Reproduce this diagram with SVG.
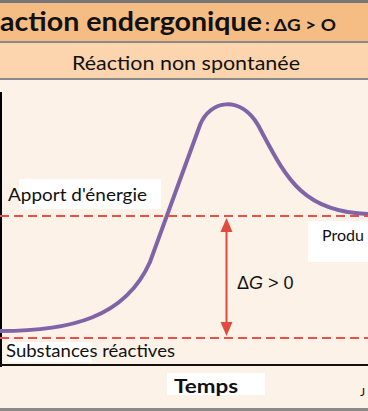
<svg xmlns="http://www.w3.org/2000/svg" width="368" height="411" viewBox="0 0 368 411">
<defs>
<style>
.t{font-family:Lato,"Open Sans","Liberation Sans",sans-serif;fill:#111}
.dash{stroke:#e8514a;stroke-width:2;stroke-dasharray:9 5;fill:none}
.box{fill:#fff}
</style>
</defs>
<rect x="0" y="0" width="368" height="411" fill="#fdf2e7"/>
<g id="title">
<rect x="0" y="0" width="368" height="42" fill="#f5bc84"/>
<rect x="0" y="0" width="368" height="3" fill="#767676"/>
<rect x="0" y="41" width="368" height="2" fill="#8a8a8a"/>
<text class="t" x="0" y="31" font-size="26" font-weight="bold" textLength="262" lengthAdjust="spacingAndGlyphs">action endergonique</text>
<text class="t" x="265" y="31" font-size="17" font-weight="bold" textLength="71" lengthAdjust="spacingAndGlyphs">: ΔG &gt; O</text>
</g>
<g id="subtitle">
<rect x="0" y="43" width="368" height="36" fill="#fcd5ae"/>
<rect x="0" y="78" width="368" height="2" fill="#8a8a8a"/>
<text class="t" x="72" y="70" font-size="19" textLength="228" lengthAdjust="spacingAndGlyphs">Réaction non spontanée</text>
</g>
<g id="axes">
<rect x="0" y="92" width="2" height="275" fill="#000"/>
<rect x="0" y="364" width="368" height="2" fill="#111"/>
<rect x="0" y="408" width="368" height="3" fill="#8a8a8a"/>
</g>
<g id="connectors">
<path id="curve" d="M0,331 C70,331 125,318 150,262 L200,125 C210,100 240,95 258,125 C285,175 300,212 368,214" fill="none" stroke="#8064a8" stroke-width="4"/>
<line class="dash" x1="0" y1="216" x2="368" y2="216"/>
<line class="dash" x1="0" y1="338" x2="368" y2="338"/>
<line x1="226.5" y1="231" x2="226.5" y2="324" stroke="#e04a3f" stroke-width="2"/>
<path d="M226.5,218 L220.5,232 L232.5,232 Z" fill="#e04a3f"/>
<path d="M226.5,336 L220.5,322 L232.5,322 Z" fill="#e04a3f"/>
</g>
<g id="apport">
<rect class="box" x="19" y="179" width="142" height="30"/>
<text class="t" x="8" y="201" font-size="16.5" textLength="139" lengthAdjust="spacingAndGlyphs">Apport d'énergie</text>
</g>
<g id="produits">
<rect class="box" x="308" y="221" width="60" height="41"/>
<text class="t" x="322" y="241" font-size="16">Produ</text>
</g>
<g id="deltaG">
<text x="237" y="289" font-family="'Liberation Sans',Arial,sans-serif" font-size="18" fill="#111">Δ<tspan font-style="italic">G</tspan> &gt; 0</text>
</g>
<g id="reactives">
<rect class="box" x="8" y="342" width="84" height="20"/>
<text class="t" x="6" y="357" font-size="16.5" textLength="169" lengthAdjust="spacingAndGlyphs">Substances réactives</text>
</g>
<g id="temps">
<rect class="box" x="167" y="373" width="98" height="22"/>
<text class="t" x="174" y="393" font-size="18" font-weight="bold" textLength="64" lengthAdjust="spacingAndGlyphs">Temps</text>
</g>
<text class="t" x="360" y="396" font-size="12">J</text>
</svg>
